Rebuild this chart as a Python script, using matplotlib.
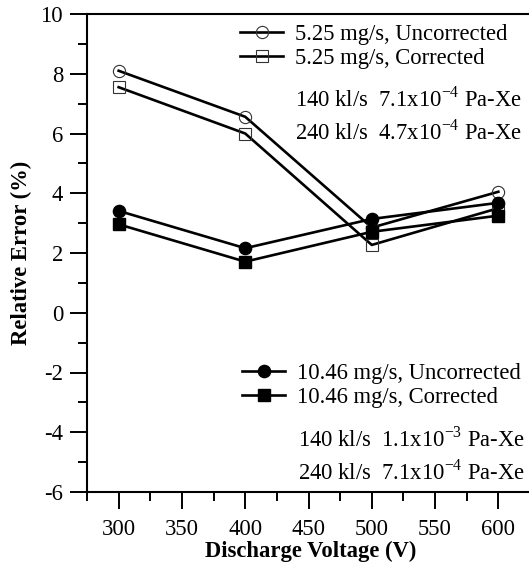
import matplotlib
matplotlib.use("Agg")
import matplotlib.pyplot as plt
from matplotlib.lines import Line2D
from matplotlib.ticker import MultipleLocator

plt.rcParams["font.family"] = ["Liberation Serif", "DejaVu Serif"]
plt.rcParams["mathtext.fontset"] = "custom"
plt.rcParams["mathtext.rm"] = "Liberation Serif"
plt.rcParams["axes.unicode_minus"] = False

# Discharge voltage (V) and relative error (%) for each flow rate / correction
voltage = [300, 400, 500, 600]
unc_525 = [8.10, 6.56, 2.85, 4.05]
cor_525 = [7.55, 6.00, 2.27, 3.50]
unc_1046 = [3.41, 2.16, 3.14, 3.68]
cor_1046 = [2.96, 1.71, 2.71, 3.25]

labels_525 = ["5.25 mg/s, Uncorrected", "5.25 mg/s, Corrected"]
labels_1046 = ["10.46 mg/s, Uncorrected", "10.46 mg/s, Corrected"]
notes_525 = ["140 kl/s  7.1x10$^{\\mathregular{-4}}$ Pa-Xe",
             "240 kl/s  4.7x10$^{\\mathregular{-4}}$ Pa-Xe"]
notes_1046 = ["140 kl/s  1.1x10$^{\\mathregular{-3}}$ Pa-Xe",
              "240 kl/s  7.1x10$^{\\mathregular{-4}}$ Pa-Xe"]

W, H = 529, 577
fig = plt.figure(figsize=(W / 100, H / 100), dpi=100)
ax = fig.add_axes([87 / W, 1 - 492 / H, 443 / W, 478 / H])

FS = 16.3
lw = 1.9
open_kw = dict(color="black", lw=lw, markerfacecolor="none",
               markeredgecolor="#333333", markeredgewidth=0.8, markersize=8.8)
fill_kw = dict(color="black", lw=lw, markerfacecolor="black",
               markeredgecolor="black", markersize=8.8)

h1, = ax.plot(voltage, unc_525, marker="o", **open_kw)
h2, = ax.plot(voltage, cor_525, marker="s", **open_kw)
h3, = ax.plot(voltage, cor_1046, marker="s", **fill_kw)
h4, = ax.plot(voltage, unc_1046, marker="o", **fill_kw)

ax.set_xlim(275, 625)
ax.set_ylim(-6, 10)
ax.xaxis.set_major_locator(MultipleLocator(50))
ax.xaxis.set_minor_locator(MultipleLocator(25))
ax.yaxis.set_major_locator(MultipleLocator(2))
ax.yaxis.set_minor_locator(MultipleLocator(1))
ax.tick_params(which="major", direction="out", length=12.2, width=1.4,
               labelsize=FS, top=False, right=False)
ax.tick_params(which="minor", direction="out", length=6.5, width=1.4,
               top=False, right=False)
ax.tick_params(axis="x", which="major", pad=7)
ax.tick_params(axis="y", which="major", pad=5)
for side in ("left", "bottom", "top"):
    ax.spines[side].set_linewidth(1.5)
ax.spines["right"].set_visible(False)

fig.text(311 / W, 1 - 551 / H, "Discharge Voltage (V)", fontsize=FS,
         fontweight="bold", ha="center", va="center")
fig.text(21 / W, 1 - 253 / H, "Relative Error (%)", fontsize=FS,
         fontweight="bold", ha="center", va="center", rotation=90)

leg_kw = dict(frameon=False, fontsize=FS, handlelength=1.9, handletextpad=0.53,
              labelspacing=0.12, borderpad=0, borderaxespad=0, loc="upper left",
              bbox_transform=fig.transFigure)
leg1 = ax.legend([h1, h2], labels_525, bbox_to_anchor=(240 / W, 1 - 24 / H), **leg_kw)
ax.add_artist(leg1)
ax.legend([h4, h3], labels_1046, bbox_to_anchor=(242 / W, 1 - 363 / H), **leg_kw)

for i, txt in enumerate(notes_525):
    fig.text(295 / W, 1 - (106.7 + 33.3 * i) / H, txt, fontsize=FS, va="baseline")
for i, txt in enumerate(notes_1046):
    fig.text(298 / W, 1 - (446.7 + 33.3 * i) / H, txt, fontsize=FS, va="baseline")

fig.savefig("out.png", dpi=100)
